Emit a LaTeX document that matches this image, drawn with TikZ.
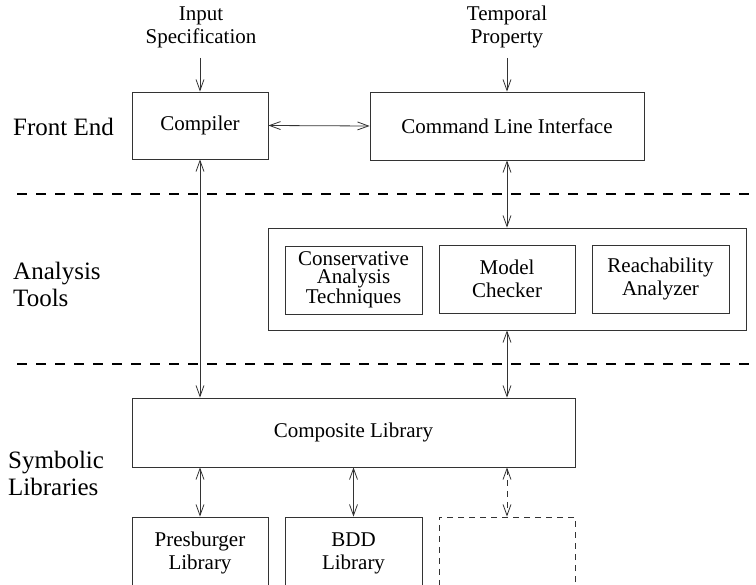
\documentclass[tikz,border=0pt]{standalone}
\usepackage{fontspec}
\setmainfont{Liberation Serif}
\usetikzlibrary{arrows.meta}
\begin{document}
\begin{tikzpicture}[x=1pt,y=-1pt,
  box/.style={draw=black!80,line width=0.8pt,inner sep=0pt,align=center,
    font=\fontsize{21}{23}\selectfont},
  lbl/.style={inner sep=0pt,anchor=west,align=left,font=\fontsize{25}{27}\selectfont},
  txt/.style={inner sep=0pt,align=center,font=\fontsize{21}{23}\selectfont},
  conn/.style={draw=black!80,line width=0.8pt},
  dbl/.style={conn,{Straight Barb[length=11pt,width=8pt]}-{Straight Barb[length=11pt,width=8pt]}},
  sgl/.style={conn,-{Straight Barb[length=11pt,width=8pt]}},
  sep/.style={draw=black,line width=2.2pt,dash pattern=on 10pt off 9pt}
]
\useasboundingbox (0,0) rectangle (756,585);

% top inputs
\node[txt] (inp) at (201,27) {Input\\Specification};
\node[txt] (tmp) at (507,27) {Temporal\\Property};
\coordinate (inpend) at (200,58);
\coordinate (tmpend) at (507,58);

% layer labels
\node[lbl] (fe) at (13,126.5) {Front End};
\node[lbl] (at) at (13,284) {Analysis\\Tools};
\node[lbl] (sl) at (8,473) {Symbolic\\Libraries};

% separators
\coordinate (s1a) at (17,194); \coordinate (s1b) at (756,194);
\coordinate (s2a) at (17,364); \coordinate (s2b) at (756,364);
\draw[sep] (s1a) -- (s1b);
\draw[sep] (s2a) -- (s2b);

% front end
\node[box,minimum width=136pt,minimum height=67pt] (comp) at (200,125.5) {Compiler};
\node[box,minimum width=274pt,minimum height=68pt] (cli) at (507,126) {Command Line Interface};

% analysis tools
\node[box,minimum width=478pt,minimum height=102pt] (ana) at (507,279) {};
\node[box,minimum width=137pt,minimum height=68pt,font=\fontsize{21}{18}\selectfont] (cons) at (353.5,280) {Conservative\\Analysis\\Techniques};
\node[box,minimum width=136pt,minimum height=68pt] (mc) at (507,279) {Model\\Checker};
\node[box,minimum width=137pt,minimum height=68pt] (ra) at (660.5,279) {Reachability\\Analyzer};

% symbolic libraries
\node[box,minimum width=443pt,minimum height=69pt] (cmp) at (353.5,432.5) {Composite Library};
\node[box,minimum width=136pt,minimum height=72pt] (pres) at (200,553) {Presburger\\Library};
\node[box,minimum width=137pt,minimum height=72pt] (bdd) at (353.5,553) {BDD\\Library};
\node[box,dashed,dash pattern=on 6pt off 5pt,minimum width=136pt,minimum height=72pt] (dsh) at (507,553) {};

% connectors
\draw[sgl] (inpend) -- (comp.north);
\draw[sgl] (tmpend) -- (cli.north);
\draw[dbl] (comp.east) -- (cli.west);
\draw[dbl] (cli.south) -- (ana.north);
\draw[dbl] (comp.south) -- (comp.south |- cmp.north);
\draw[dbl] (ana.south) -- (ana.south |- cmp.north);
\draw[dbl] (pres.north |- cmp.south) -- (pres.north);
\draw[dbl] (bdd.north |- cmp.south) -- (bdd.north);
\draw[dbl,dash pattern=on 6pt off 5pt] (dsh.north |- cmp.south) -- (dsh.north);
\end{tikzpicture}
\end{document}
